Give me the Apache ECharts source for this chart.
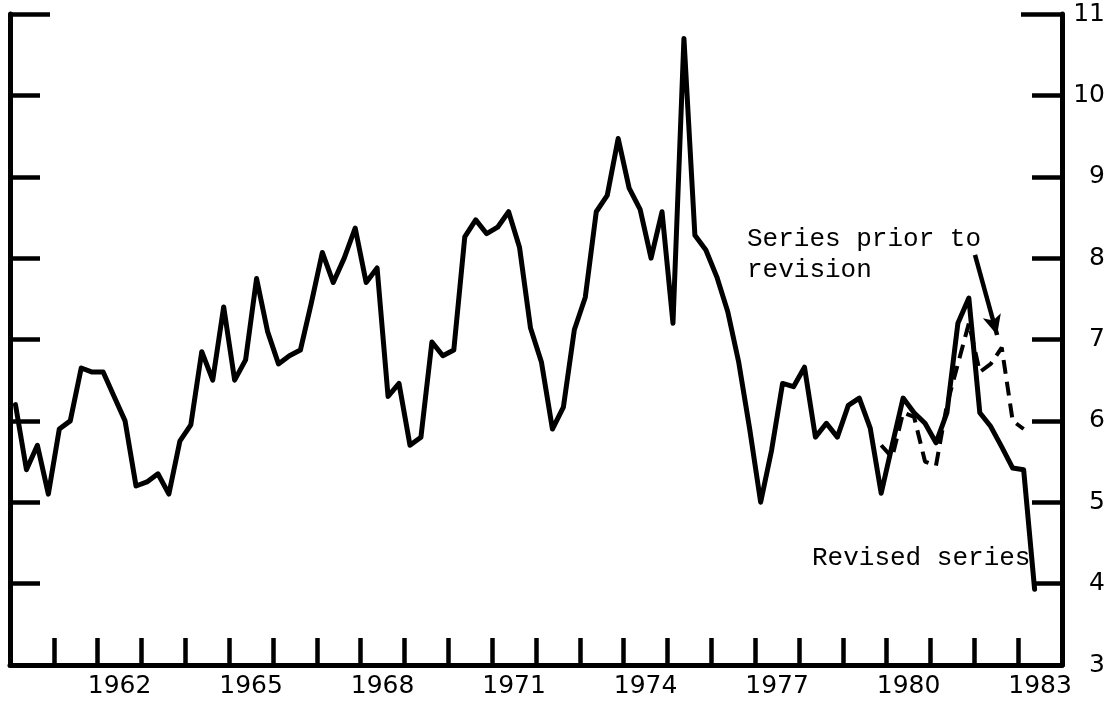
<!DOCTYPE html>
<html>
<head>
<meta charset="utf-8">
<script src="https://cdn.jsdelivr.net/npm/echarts@6/dist/echarts.min.js"></script>
<style>
html,body{margin:0;padding:0;background:#fff;}
#c{width:1114px;height:705px;}
</style>
</head>
<body>
<div id="c"></div>
<script>
// Year categories (ticks at year boundaries, labels centred in each year)
const years = ['1960','1961','1962','1963','1964','1965','1966','1967','1968','1969','1970','1971',
               '1972','1973','1974','1975','1976','1977','1978','1979','1980','1981','1982','1983'];
const yearLabels = ['1962','1965','1968','1971','1974','1977','1980','1983'];
const yMin = 3, yMax = 11, yStep = 1;
const firstYear = 1960, lastYear = 1984;

// Quarterly values, revised series, 1960Q1 .. 1983Q2
const revised = [
  6.2, 5.4, 5.7, 5.1,
  5.9, 6.0, 6.65, 6.6,
  6.6, 6.3, 6.0, 5.2,
  5.25, 5.35, 5.1, 5.75,
  5.95, 6.85, 6.5, 7.4,
  6.5, 6.75, 7.75, 7.1,
  6.7, 6.8, 6.87, 7.45,
  8.07, 7.7, 8.0, 8.37,
  7.7, 7.88, 6.3, 6.46,
  5.7, 5.8, 6.97, 6.8,
  6.87, 8.26, 8.47, 8.3,
  8.38, 8.57, 8.13, 7.14,
  6.72, 5.9, 6.17, 7.12,
  7.52, 8.57, 8.77, 9.47,
  8.86, 8.6, 8.0, 8.57,
  7.2, 10.7, 8.28, 8.1,
  7.77, 7.34, 6.72, 5.9,
  5.0, 5.64, 6.46, 6.42,
  6.66, 5.8, 5.97, 5.8,
  6.19, 6.28, 5.91, 5.11,
  5.7, 6.28, 6.1, 5.97,
  5.73, 6.1, 7.2, 7.51,
  6.1, 5.93, 5.68, 5.42,
  5.4, 3.93
];
// Series prior to revision, 1979Q4 .. 1983Q1
const priorStartQuarter = 79; // index of 1979Q4 counted from 1960Q1
const prior = [5.7, 5.55, 6.1, 6.05, 5.5, 5.45, 6.2, 6.7, 7.2, 6.6, 6.7, 6.9, 6.0, 5.9];

// Arrow annotation (data coordinates: year, value)
const arrowFrom = [1982.015, 8.04];
const arrowTo = [1982.52, 7.055];

function qDate(i){ return firstYear + (i + 0.5) / 4; }
const revisedData = revised.map((v, i) => [qDate(i), v]);
const priorData = prior.map((v, i) => [qDate(priorStartQuarter + i), v]);

const black = '#000';
const labelFont = 'DejaVu Sans';
const noteFont = 'Liberation Mono';

function yAxisBase(pos, showLabel, tickLen, interval, showLine){
  return {
    type: 'value', position: pos, min: yMin, max: yMax, interval: interval,
    axisLine: { show: showLine, lineStyle: { color: black, width: 5 } },
    axisTick: { show: true, inside: true, length: tickLen, lineStyle: { color: black, width: 4.5 } },
    axisLabel: showLabel ? {
      show: true, color: black, fontFamily: labelFont, fontSize: 25, align: 'right', margin: 43
    } : { show: false },
    splitLine: { show: false }
  };
}

const chart = echarts.init(document.getElementById('c'), null, { renderer: 'canvas' });
chart.setOption({
  animation: false,
  backgroundColor: '#fff',
  grid: { left: 10, right: 52, top: 14, bottom: 40, containLabel: false },
  xAxis: [
    {
      type: 'category', data: years, boundaryGap: true, position: 'bottom',
      axisLine: { show: true, lineStyle: { color: black, width: 5 } },
      axisTick: { show: true, inside: true, length: 27, interval: 0, lineStyle: { color: black, width: 4.5 } },
      axisLabel: {
        show: true, interval: 0, color: black, fontFamily: labelFont, fontSize: 25, margin: 9,
        formatter: v => yearLabels.indexOf(v) >= 0 ? v : ''
      },
      splitLine: { show: false }
    },
    { type: 'value', min: firstYear, max: lastYear, show: false }
  ],
  yAxis: [
    yAxisBase('left', false, 30, yStep, true),
    yAxisBase('right', true, 30, yStep, true),
    yAxisBase('left', false, 40, yMax - yMin, false),
    yAxisBase('right', false, 41, yMax - yMin, false)
  ],
  series: [
    {
      name: 'Revised series', type: 'line', xAxisIndex: 1, yAxisIndex: 0,
      data: revisedData, showSymbol: false, symbol: 'none',
      lineStyle: { color: black, width: 5, join: 'round', cap: 'round' }, z: 3
    },
    {
      name: 'Series prior to revision', type: 'line', xAxisIndex: 1, yAxisIndex: 0,
      data: priorData, showSymbol: false, symbol: 'none',
      lineStyle: { color: black, width: 4, type: [14, 8] }, z: 2,
      markLine: {
        silent: true, symbol: ['none', 'arrow'], symbolSize: [14, 20],
        label: { show: false },
        lineStyle: { color: black, width: 4.5, type: 'solid' },
        data: [[{ coord: arrowFrom }, { coord: arrowTo }]]
      }
    }
  ],
  graphic: [
    { type: 'text', left: 747, top: 226, style: { text: 'Series prior to', font: '26px "' + noteFont + '"', fill: black } },
    { type: 'text', left: 747, top: 257, style: { text: 'revision', font: '26px "' + noteFont + '"', fill: black } },
    { type: 'text', left: 812, top: 545, style: { text: 'Revised series', font: '26px "' + noteFont + '"', fill: black } }
  ]
});
</script>
</body>
</html>
